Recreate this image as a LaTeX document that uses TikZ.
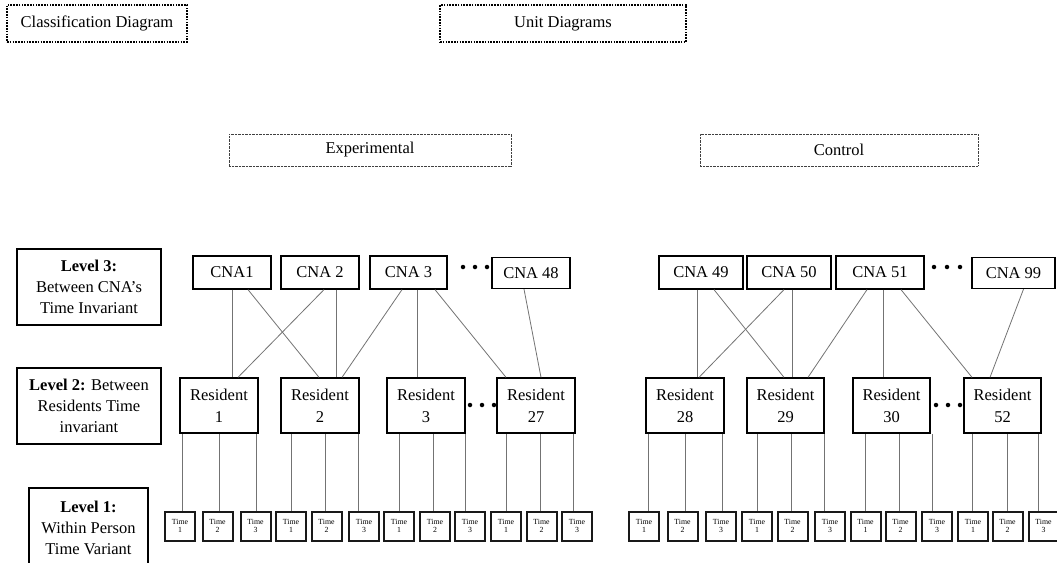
\documentclass[tikz,border=0pt]{standalone}
\usepackage{fontspec}
\setmainfont{Liberation Serif}
\tikzset{
  box/.style={draw=black, line width=1.3pt, fill=white, inner sep=0pt, align=center,
    font=\fontsize{16.5}{22}\selectfont},
  lvl/.style={box, font=\fontsize{16.5}{21}\selectfont},
  tbox/.style={draw=black!90, line width=2pt, fill=white, inner sep=0pt, align=center,
    minimum width=30pt, minimum height=29pt, font=\fontsize{7.8}{8}\selectfont},
  topdot/.style={draw=black, line width=2pt, dash pattern=on 1.6pt off 1.2pt, inner sep=0pt,
    font=\fontsize{16.5}{20}\selectfont},
  grpdot/.style={draw=black!75, line width=0.9pt, dash pattern=on 0.8pt off 0.6pt, inner sep=0pt,
    font=\fontsize{16.5}{20}\selectfont},
  conn/.style={draw=black!55, line width=0.8pt},
  dotc/.style={fill=black, circle, inner sep=0pt, minimum size=4.5pt},
}
\begin{document}
\begin{tikzpicture}[x=1pt, y=-1pt]
\useasboundingbox (0,0) rectangle (1057,562);
% top labels
\node[topdot, minimum width=180pt, minimum height=37pt] (cls) at (97,23.5) {Classification Diagram};
\node[topdot, minimum width=246pt, minimum height=37pt] (unit) at (563,23.5) {Unit Diagrams};
\node[grpdot, minimum width=282pt, minimum height=32pt] (exp) at (370,150) {Experimental};
\node[grpdot, minimum width=278pt, minimum height=32pt] (ctl) at (839,150) {Control};
% level boxes
\node[lvl, minimum width=144pt, minimum height=76pt] (l3) at (89,287) {\textbf{Level 3:}\\Between CNA’s\\Time Invariant};
\node[lvl, minimum width=144pt, minimum height=76pt] (l2) at (89,406) {\textbf{Level 2:} Between\\Residents Time\\invariant};
\node[lvl, minimum width=119pt, minimum height=80pt] (l1) at (88.5,528) {\textbf{Level 1:}\\Within Person\\Time Variant};
% CNA left
\node[box, minimum width=78pt, minimum height=33pt] (c1) at (232,272.5) {CNA1};
\node[box, minimum width=78pt, minimum height=33pt] (c2) at (320,272.5) {CNA 2};
\node[box, minimum width=77pt, minimum height=33pt] (c3) at (408.5,272.5) {CNA 3};
\node[box, minimum width=78pt, minimum height=31pt] (c48) at (531,273) {CNA 48};
\node[dotc] (dA1) at (463,267) {};
\node[dotc] (dA2) at (475,267) {};
\node[dotc] (dA3) at (487,267) {};
% CNA right
\node[box, minimum width=84pt, minimum height=33pt] (c49) at (701,272.5) {CNA 49};
\node[box, minimum width=84pt, minimum height=33pt] (c50) at (789,272.5) {CNA 50};
\node[box, minimum width=88pt, minimum height=33pt] (c51) at (880,272.5) {CNA 51};
\node[box, minimum width=83pt, minimum height=31pt] (c99) at (1013.5,273) {CNA 99};
\node[dotc] (dB1) at (934,267) {};
\node[dotc] (dB2) at (947,267) {};
\node[dotc] (dB3) at (960,267) {};
% Residents left
\node[box, minimum width=78pt, minimum height=55pt] (r1) at (219,405.5) {Resident\\1};
\node[box, minimum width=78pt, minimum height=55pt] (r2) at (320,405.5) {Resident\\2};
\node[box, minimum width=78pt, minimum height=55pt] (r3) at (426,405.5) {Resident\\3};
\node[box, minimum width=78pt, minimum height=55pt] (r27) at (536,405.5) {Resident\\27};
\node[dotc] (dC1) at (470,405) {};
\node[dotc] (dC2) at (482,405) {};
\node[dotc] (dC3) at (494,405) {};
% Residents right
\node[box, minimum width=78pt, minimum height=55pt] (r28) at (685,405.5) {Resident\\28};
\node[box, minimum width=77pt, minimum height=55pt] (r29) at (785.5,405.5) {Resident\\29};
\node[box, minimum width=77pt, minimum height=55pt] (r30) at (891.5,405.5) {Resident\\30};
\node[box, minimum width=77pt, minimum height=55pt] (r52) at (1002.5,405.5) {Resident\\52};
\node[dotc] (dD1) at (936,405) {};
\node[dotc] (dD2) at (948,405) {};
\node[dotc] (dD3) at (960,405) {};
% CNA -> Resident connectors, left
\draw[conn] ([xshift=0pt]c1.south) -- ([xshift=13pt]r1.north);
\draw[conn] ([xshift=16pt]c1.south) -- ([xshift=-1pt]r2.north);
\draw[conn] ([xshift=4pt]c2.south) -- ([xshift=19pt]r1.north);
\draw[conn] ([xshift=16pt]c2.south) -- ([xshift=16pt]r2.north);
\draw[conn] ([xshift=-6.5pt]c3.south) -- ([xshift=22pt]r2.north);
\draw[conn] ([xshift=8.5pt]c3.south) -- ([xshift=-9pt]r3.north);
\draw[conn] ([xshift=26.5pt]c3.south) -- ([xshift=-30pt]r27.north);
\draw[conn] ([xshift=-7pt]c48.south) -- ([xshift=5pt]r27.north);
% right
\draw[conn] ([xshift=-4pt]c49.south) -- ([xshift=12pt]r28.north);
\draw[conn] ([xshift=13pt]c49.south) -- ([xshift=-1.5pt]r29.north);
\draw[conn] ([xshift=-5pt]c50.south) -- ([xshift=14pt]r28.north);
\draw[conn] ([xshift=3pt]c50.south) -- ([xshift=6.5pt]r29.north);
\draw[conn] ([xshift=-13pt]c51.south) -- ([xshift=22.5pt]r29.north);
\draw[conn] ([xshift=3pt]c51.south) -- ([xshift=-8.5pt]r30.north);
\draw[conn] ([xshift=21pt]c51.south) -- ([xshift=-30.5pt]r52.north);
\draw[conn] ([xshift=10pt]c99.south) -- ([xshift=-12.5pt]r52.north);
% Time boxes
\foreach \nm/\x/\k/\r/\o in {
  ta1/180/1/r1/2, ta2/217.5/2/r1/1.5, ta3/255.5/3/r1/0.5,
  tb1/291/1/r2/0, tb2/326.5/2/r2/-1.5, tb3/364/3/r2/-6,
  tc1/399/1/r3/0, tc2/435/2/r3/-2, tc3/470/3/r3/-5,
  td1/506/1/r27/0, td2/541.5/2/r27/-1.5, td3/577/3/r27/-4,
  te1/644/1/r28/4, te2/682.5/2/r28/2.5, te3/721/3/r28/1,
  tf1/757/1/r29/0, tf2/792.5/2/r29/-1.5, tf3/830/3/r29/-6,
  tg1/865.5/1/r30/-0.5, tg2/900.5/2/r30/-1.5, tg3/937/3/r30/-5,
  th1/973/1/r52/-1, th2/1007.5/2/r52/-0.5, th3/1043.5/3/r52/-5.5}{
  \node[tbox] (\nm) at (\x,526) {Time\\\k};
  \draw[conn] ([xshift=\o pt]\nm.north) -- ([xshift=\o pt]\nm.north |- \r.south);
}
\end{tikzpicture}
\end{document}
